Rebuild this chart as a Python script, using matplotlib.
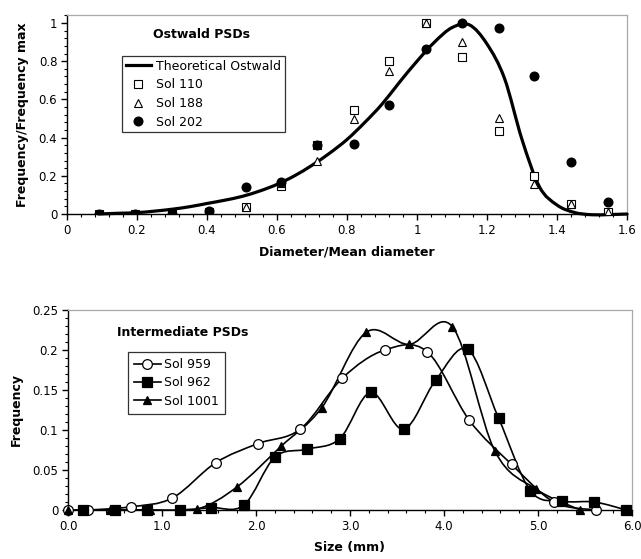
import numpy as np
import matplotlib
matplotlib.use("Agg")
import matplotlib.pyplot as plt
from matplotlib.path import Path
from matplotlib.patches import PathPatch
from matplotlib.lines import Line2D
from matplotlib.ticker import MultipleLocator, FormatStrFormatter, FuncFormatter

# ---------------- data: top chart (Ostwald PSDs) ----------------
theory_x = [0.09, 0.15, 0.2, 0.25, 0.3, 0.35, 0.4, 0.45, 0.5, 0.55, 0.6, 0.65, 0.7,
            0.75, 0.8, 0.85, 0.9, 0.95, 1.0, 1.05, 1.1, 1.15, 1.2, 1.25, 1.3, 1.35,
            1.4, 1.45, 1.5, 1.55, 1.6]
theory_y = [0.0, 0.004, 0.007, 0.015, 0.025, 0.038, 0.055, 0.072, 0.092, 0.12, 0.155,
            0.2, 0.255, 0.318, 0.39, 0.478, 0.575, 0.69, 0.8, 0.9, 0.976, 0.99, 0.89,
            0.71, 0.39, 0.142, 0.047, 0.008, -0.004, -0.003, 0.0]

sol_x = [0.09, 0.195, 0.3, 0.405, 0.51, 0.61, 0.715, 0.82, 0.92, 1.025, 1.13,
         1.235, 1.335, 1.44, 1.545]
sol110 = [0.0, 0.0, 0.0, 0.01, 0.035, 0.148, 0.36, 0.545, 0.80, 1.0, 0.82,
          0.435, 0.2, 0.05, 0.01]
sol188 = [0.0, 0.0, 0.0, 0.01, 0.035, 0.16, 0.28, 0.50, 0.75, 1.0, 0.90,
          0.505, 0.157, 0.05, 0.01]
sol202 = [0.0, 0.0, 0.0, 0.015, 0.143, 0.17, 0.36, 0.366, 0.57, 0.865, 1.0,
          0.975, 0.72, 0.27, 0.063]

# ---------------- data: bottom chart (Intermediate PSDs) ----------------
s959_x = [0.0, 0.21, 0.67, 1.11, 1.57, 2.02, 2.47, 2.92, 3.37, 3.82, 4.27, 4.72, 5.17, 5.62]
s959_y = [0.0, 0.0, 0.004, 0.015, 0.059, 0.083, 0.101, 0.165, 0.2, 0.198, 0.112, 0.057, 0.010, 0.0]

s962_x = [0.16, 0.5, 0.84, 1.19, 1.52, 1.87, 2.2, 2.54, 2.89, 3.22, 3.57, 3.91, 4.25,
          4.58, 4.92, 5.26, 5.6, 5.94]
s962_y = [0.0, 0.0, 0.0, 0.0, 0.003, 0.006, 0.066, 0.076, 0.089, 0.147, 0.101, 0.162,
          0.201, 0.115, 0.024, 0.011, 0.010, 0.0]

s1001_x = [0.0, 0.45, 0.87, 1.37, 1.8, 2.27, 2.7, 3.17, 3.63, 4.09, 4.54, 4.98, 5.45]
s1001_y = [0.0, 0.0, 0.0, 0.001, 0.029, 0.080, 0.128, 0.222, 0.207, 0.229, 0.074, 0.026, 0.0]


def smooth_path(x, y):
    """Excel-like smoothed line: Catmull-Rom segments as cubic Beziers."""
    x = np.asarray(x, float)
    y = np.asarray(y, float)
    n = len(x)
    verts = [(x[0], y[0])]
    codes = [Path.MOVETO]
    t = 1.0 / 6.0
    for i in range(n - 1):
        p0 = (x[i - 1], y[i - 1]) if i > 0 else (x[i], y[i])
        p1 = (x[i], y[i])
        p2 = (x[i + 1], y[i + 1])
        p3 = (x[i + 2], y[i + 2]) if i + 2 < n else (x[i + 1], y[i + 1])
        c1 = (p1[0] + (p2[0] - p0[0]) * t, p1[1] + (p2[1] - p0[1]) * t)
        c2 = (p2[0] - (p3[0] - p1[0]) * t, p2[1] - (p3[1] - p1[1]) * t)
        verts += [c1, c2, p2]
        codes += [Path.CURVE4] * 3
    return Path(verts, codes)


FONT = "DejaVu Sans"
plt.rcParams["font.family"] = [FONT]
TICK_FS = 8.5
LAB_FS = 9
LEG_FS = 9

fig = plt.figure(figsize=(6.41, 5.59), dpi=100)
W, H = 641, 559


def place(l, r, t, b):
    return fig.add_axes([l / W, 1 - b / H, (r - l) / W, (b - t) / H])


def style_axes(ax):
    for s in ("top", "right"):
        ax.spines[s].set_color("#a8a8a8")
        ax.spines[s].set_linewidth(0.9)
    for s in ("left", "bottom"):
        ax.spines[s].set_color("black")
        ax.spines[s].set_linewidth(1.0)
    ax.tick_params(which="major", direction="out", length=4, width=1.0,
                   labelsize=TICK_FS, pad=3)
    ax.tick_params(which="minor", direction="out", length=2.5, width=0.8)
    ax.tick_params(top=False, right=False, which="both")


# ---------------- top chart ----------------
ax1 = place(67, 627, 15, 214)
style_axes(ax1)
ax1.set_xlim(0, 1.6)
ax1.set_ylim(0, 1.042)
ax1.xaxis.set_major_locator(MultipleLocator(0.2))
ax1.xaxis.set_minor_locator(MultipleLocator(0.04))
ax1.yaxis.set_major_locator(MultipleLocator(0.2))
ax1.yaxis.set_minor_locator(MultipleLocator(0.04))
fmt = FuncFormatter(lambda v, p: "0" if abs(v) < 1e-9 else ("%g" % round(v, 2)))
ax1.xaxis.set_major_formatter(fmt)
ax1.yaxis.set_major_formatter(fmt)

ax1.add_patch(PathPatch(smooth_path(theory_x, theory_y), fill=False, lw=2.3,
                        edgecolor="black", zorder=3, capstyle="round", clip_on=False))
ax1.plot(sol_x, sol110, ls="none", marker="s", ms=5.2, mfc="white", mec="black", mew=0.8, zorder=4)
ax1.plot(sol_x, sol188, ls="none", marker="^", ms=5.6, mfc="white", mec="black", mew=0.8, zorder=4)
ax1.plot(sol_x, sol202, ls="none", marker="o", ms=6.2, mfc="black", mec="black", zorder=5)

ax1.set_xlabel("Diameter/Mean diameter", fontsize=LAB_FS, fontweight="bold", labelpad=6)
ax1.set_ylabel("Frequency/Frequency max", fontsize=LAB_FS, fontweight="bold", labelpad=7)
ax1.text(0.24, 0.9, "Ostwald PSDs", transform=ax1.transAxes, fontsize=LAB_FS,
         fontweight="bold", ha="center", va="center")

h1 = [Line2D([], [], color="black", lw=2.3),
      Line2D([], [], ls="none", marker="s", ms=5.2, mfc="white", mec="black", mew=0.8),
      Line2D([], [], ls="none", marker="^", ms=5.6, mfc="white", mec="black", mew=0.8),
      Line2D([], [], ls="none", marker="o", ms=6.2, mfc="black", mec="black")]
leg1 = ax1.legend(h1, ["Theoretical Ostwald", "Sol 110", "Sol 188", "Sol 202"],
                  loc="upper left", bbox_to_anchor=((122 - 67) / 560, 1 - (56 - 15) / 199),
                  fontsize=LEG_FS, frameon=True, fancybox=False, edgecolor="black",
                  handlelength=2.0, handletextpad=0.4, borderpad=0.3, labelspacing=0.45,
                  borderaxespad=0)
leg1.get_frame().set_linewidth(0.9)

# ---------------- bottom chart ----------------
ax2 = place(68, 632, 310, 510)
style_axes(ax2)
ax2.set_xlim(0, 6.0)
ax2.set_ylim(0, 0.25)
ax2.xaxis.set_major_locator(MultipleLocator(1.0))
ax2.xaxis.set_minor_locator(MultipleLocator(0.2))
ax2.yaxis.set_major_locator(MultipleLocator(0.05))
ax2.yaxis.set_minor_locator(MultipleLocator(0.01))
ax2.xaxis.set_major_formatter(FormatStrFormatter("%.1f"))
ax2.yaxis.set_major_formatter(FuncFormatter(lambda v, p: "0" if abs(v) < 1e-9 else ("%g" % round(v, 3))))

styles = [(s959_x, s959_y, "o", "white", 7.0),
          (s962_x, s962_y, "s", "black", 6.8),
          (s1001_x, s1001_y, "^", "black", 6.4)]
for (xs, ys, mk, fc, ms) in styles:
    ax2.add_patch(PathPatch(smooth_path(xs, ys), fill=False, lw=1.2, edgecolor="black", zorder=3))
    ax2.plot(xs, ys, ls="none", marker=mk, ms=ms, mfc=fc, mec="black", mew=0.9, zorder=4,
             clip_on=False)

ax2.set_xlabel("Size (mm)", fontsize=LAB_FS, fontweight="bold", labelpad=6)
ax2.set_ylabel("Frequency", fontsize=LAB_FS, fontweight="bold", labelpad=7)
ax2.text((117 - 68) / 564, 1 - (333 - 310) / 200, "Intermediate PSDs", transform=ax2.transAxes,
         fontsize=LAB_FS, fontweight="bold", ha="left", va="center")

h2 = [Line2D([], [], color="black", lw=1.2, marker=mk, ms=ms, mfc=fc, mec="black", mew=0.9)
      for (_, _, mk, fc, ms) in styles]
leg2 = ax2.legend(h2, ["Sol 959", "Sol 962", "Sol 1001"],
                  loc="upper left", bbox_to_anchor=((128 - 68) / 564, 1 - (352 - 310) / 200),
                  fontsize=LEG_FS, frameon=True, fancybox=False, edgecolor="black",
                  handlelength=2.1, handletextpad=0.3, borderpad=0.5, labelspacing=0.42,
                  borderaxespad=0)
leg2.get_frame().set_linewidth(0.9)

fig.savefig("out.png", dpi=100)
